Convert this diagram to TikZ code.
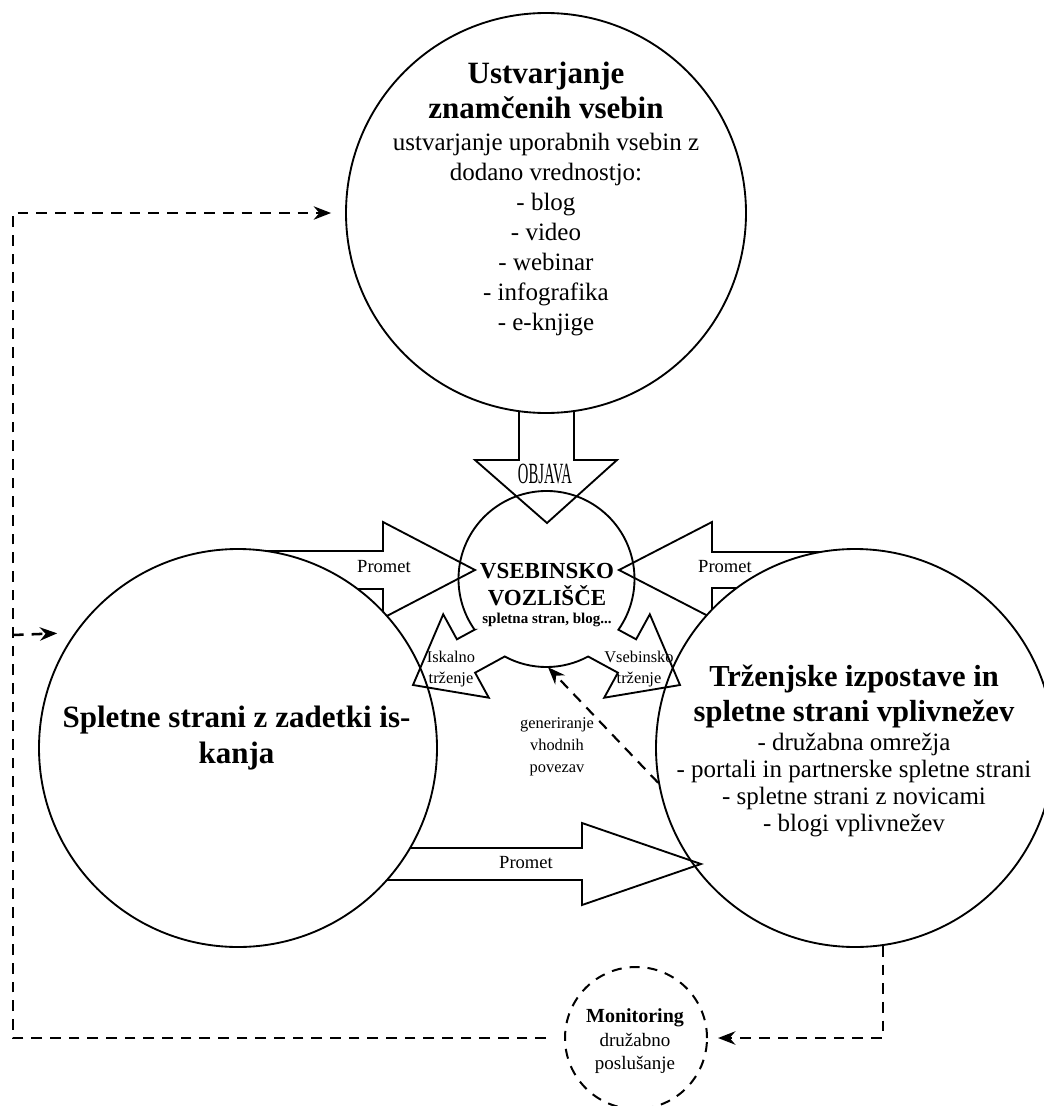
\documentclass[tikz,border=0pt]{standalone}
\usepackage{fontspec}
\setmainfont{Liberation Serif}
\newfontfamily\narrowserif[FakeStretch=0.5]{Liberation Serif}
\usetikzlibrary{arrows.meta,calc}

\begin{document}
\begin{tikzpicture}[
    x=0.75pt, y=-0.75pt,
    blockarrow/.style={draw, line width=1.4pt, line join=miter},
    bigcircle/.style={circle, draw, line width=1.4pt, fill=white, inner sep=0pt, minimum size=298.5pt},
    hubcircle/.style={circle, inner sep=0pt, minimum size=132pt},
    watchcircle/.style={circle, draw, line width=1.5pt, dash pattern=on 7.5pt off 6pt, inner sep=0pt, minimum size=106.5pt},
    feedback/.style={line width=1.9pt, dash pattern=on 8pt off 6pt, -{Stealth[length=13pt,width=10pt]}},
    bigtitle/.style={font=\fontsize{23.25}{27}\selectfont\bfseries, align=center, inner sep=0pt, anchor=north},
    bodytext/.style={font=\fontsize{18.75}{22.5}\selectfont, align=center, inner sep=0pt, anchor=north},
    flowlabel/.style={font=\fontsize{13.9}{16}\selectfont, inner sep=0pt, anchor=base},
    smalllabel/.style={font=\fontsize{12.3}{15.75}\selectfont, align=center, inner sep=0pt, anchor=north},
  ]
    \useasboundingbox (0,0) rectangle (1044,1106);

    % traffic from the influencer sites
    \draw[blockarrow] (855,552) -- (712,552) -- (712,522) -- (619,570) -- (712,618) -- (712,588) -- (855,588) -- cycle;
    \node[bigcircle] (right) at (855,748) {};

    % traffic between the two outer circles
    \draw[blockarrow] (238,848) -- (582,848) -- (582,823) -- (701,864) -- (582,905) -- (582,880) -- (238,880) -- cycle;

    % traffic from the search results
    \draw[blockarrow] (238,551) -- (383,551) -- (383,522) -- (475,570) -- (383,618) -- (383,589) -- (238,589) -- cycle;
    \node[bigcircle] (left) at (238,748) {};

    % publishing
    \draw[blockarrow] (519,300) -- (519,460) -- (475,460) -- (547,523) -- (617,460) -- (574,460) -- (574,300) -- cycle;
    \node[bigcircle, minimum size=300pt] (top) at (546,213) {};

    % content hub with its two marketing arrows
    \node[hubcircle] (hub) at (546.5,579) {};
    \draw[blockarrow] (474.6,629.7) -- (456.9,639.3) -- (443.2,614.3) -- (413,685) -- (488.8,697.7)
      -- (475.1,672.7) -- (504.7,656.5) arc[start angle=118.3, end angle=61.7, radius=88]
      -- (617.9,672.7) -- (604.2,697.7) -- (680,685) -- (649.8,614.3) -- (636.1,639.3)
      -- (618.4,629.7) arc[start angle=35.2, end angle=-215.2, radius=88] -- cycle;

    \node[watchcircle] (mon) at (636,1038) {};

    % texts
    \node[bigtitle, font=\fontsize{23.25}{26.25}\selectfont\bfseries] (toptitle) at (546,61.6) {Ustvarjanje\\znamčenih vsebin};
    \node[bodytext] (topbody) at (546,133) {ustvarjanje uporabnih vsebin z\\dodano vrednostjo:\\- blog\\- video\\- webinar\\- infografika\\- e-knjige};
    \node[font=\narrowserif\fontsize{22}{24}\selectfont, inner sep=0pt, anchor=base] (publish) at (545,483) {OBJAVA};

    \node[bigtitle, font=\fontsize{17.25}{20.25}\selectfont\bfseries] (hubtitle) at (547,562.5) {VSEBINSKO\\VOZLIŠČE};
    \node[font=\fontsize{11.25}{13}\selectfont\bfseries, inner sep=0pt, anchor=base] (hubsub) at (547,623) {spletna stran, blog...};

    \node[flowlabel] (promet1) at (384,572) {Promet};
    \node[flowlabel] (promet2) at (725,572) {Promet};
    \node[flowlabel] (promet3) at (526,868) {Promet};
    \node[smalllabel] (search) at (451,651) {Iskalno\\trženje};
    \node[smalllabel] (content) at (639,651) {Vsebinsko\\trženje};
    \node[smalllabel, font=\fontsize{12.3}{16.5}\selectfont] (links) at (557,717) {generiranje\\vhodnih\\povezav};

    \node[bigtitle] (lefttitle) at (236.5,706) {Spletne strani z zadetki is-\\kanja};
    \node[bigtitle, font=\fontsize{22.9}{26.25}\selectfont\bfseries] (righttitle) at (854,664.4) {Trženjske izpostave in\\spletne strani vplivnežev};
    \node[bodytext, font=\fontsize{18.75}{20.25}\selectfont] (rightbody) at (854,733) {- družabna omrežja\\- portali in partnerske spletne strani\\- spletne strani z novicami\\- blogi vplivnežev};

    \node[font=\fontsize{15}{17}\selectfont\bfseries, inner sep=0pt, anchor=base] (montitle) at (635,1022) {Monitoring};
    \node[smalllabel, font=\fontsize{14.25}{17.25}\selectfont] (monbody) at (635,1033) {družabno\\poslušanje};

    % feedback loops
    \coordinate (bend) at (13,635);
    \draw[feedback] ([xshift=-13.5pt]mon.west) -| (bend) |- ([xshift=-10.5pt]top.west);
    \draw[feedback] (bend) -- ([xshift=-12.75pt]left.145);
    \draw[feedback] (right.-82) |- ([xshift=7.5pt]mon.east);
    \draw[feedback, line width=1.6pt] (right.190.7) -- (hub.271);
  \end{tikzpicture}
\end{document}
